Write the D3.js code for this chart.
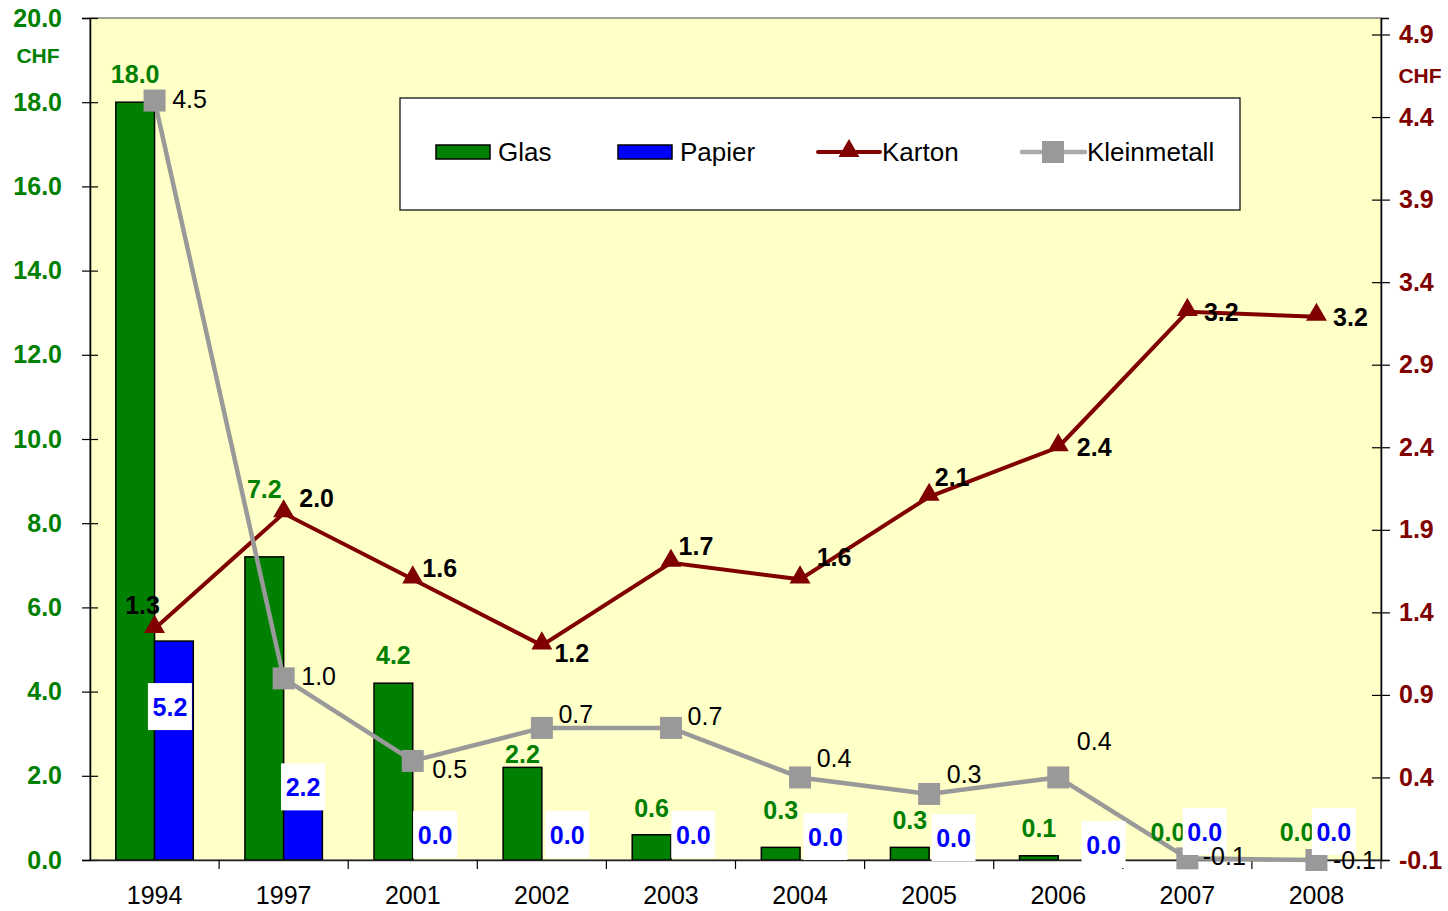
<!DOCTYPE html>
<html><head><meta charset="utf-8">
<script src="https://cdn.jsdelivr.net/npm/d3@7"></script>
<style>html,body{margin:0;padding:0;background:#fff;}svg{display:block;font-family:"Liberation Sans",Arial,sans-serif;}</style>
</head><body>
<svg id="chart" width="1448" height="911"></svg>
<script>
const years = ["1994","1997","2001","2002","2003","2004","2005","2006","2007","2008"];
const glas = [18.0, 7.2, 4.2, 2.2, 0.6, 0.3, 0.3, 0.1, 0.0, 0.0];
const papier = [5.2, 2.2, 0.0, 0.0, 0.0, 0.0, 0.0, 0.0, 0.0, 0.0];
const karton = [1.3, 2.0, 1.6, 1.2, 1.7, 1.6, 2.1, 2.4, 3.22, 3.19];
const kleinmetall = [4.5, 1.0, 0.5, 0.7, 0.7, 0.4, 0.3, 0.4, -0.09, -0.1];
const leftTicks = [0,2,4,6,8,10,12,14,16,18,20];
const rightTicks = [-0.1,0.4,0.9,1.4,1.9,2.4,2.9,3.4,3.9,4.4,4.9];

// label layout offsets (pixels), separate from data
const glasLabelDy = [-28,-68,-28,-13,-27,-37,-27,-28,-28,-28];
const papierLabelDx = [-4,0,3,6,3,6,5,26,-2,-2];
const papierLabelDy = [66,20,-25,-25,-25,-23,-22,-15,-28,-28];
const kartonLabelOff = [[-12,-24],[33,-15],[27,-11],[30,8],[25,-17],[34,-22],[23,-20],[36,0],[34,0],[34,0]];
const kleinLabelOff = [[35,-2],[35,-2],[37,8],[34,-14],[34,-12],[34,-19],[35,-20],[36,-36],[37,-2],[38,0]];

const C = {glas:"#008000", papier:"#0000FF", karton:"#800000", klein:"#999999", bg:"#FFFFC8"};
const L = 90, R = 1381, T = 18, B = 860;
const FS = 25;
const svg = d3.select("#chart");
const loc = d3.formatLocale({decimal:".", thousands:",", grouping:[3], currency:["",""], minus:"-"});
const fmt = loc.format(".1f");

const x = d3.scaleBand().domain(years).range([L, R]).paddingInner(0).paddingOuter(0);
const yL = d3.scaleLinear().domain([0,20]).range([B,T]);
const yR = d3.scaleLinear().domain([-0.1,5.0]).range([B,T]);
const bw = x.bandwidth()*0.3;
const cx = d => x(d) + x.bandwidth()/2;

// plot background
svg.append("rect").attr("x",L).attr("y",T).attr("width",R-L).attr("height",B-T)
  .attr("fill",C.bg).attr("stroke","#808080").attr("stroke-width",1.5);

// bars
svg.append("g").selectAll("rect").data(years).join("rect")
  .attr("x", d => cx(d)-bw).attr("y", (d,i)=>yL(glas[i])).attr("width", bw)
  .attr("height",(d,i)=>B-yL(glas[i])).attr("fill",C.glas).attr("stroke","#000").attr("stroke-width",1.5);
svg.append("g").selectAll("rect").data(years).join("rect")
  .attr("x", d => cx(d)).attr("y", (d,i)=>yL(papier[i])).attr("width", bw)
  .attr("height",(d,i)=>B-yL(papier[i])).attr("fill",C.papier).attr("stroke","#000").attr("stroke-width",1.5)
  .attr("display",(d,i)=>papier[i]>0?null:"none");

// axes
const gl = svg.append("g").attr("transform",`translate(${L},0)`)
  .call(d3.axisLeft(yL).tickValues(leftTicks).tickSize(8).tickFormat(fmt));
gl.select(".domain").attr("stroke","#000").attr("stroke-width",1.5);
gl.selectAll(".tick line").attr("x2",8).attr("x1",-8).attr("stroke","#000").attr("stroke-width",1.2);
gl.selectAll(".tick text").attr("x",-28).attr("fill",C.glas).attr("font-size",FS).attr("font-weight","bold")
  .attr("font-family","Liberation Sans, Arial, sans-serif");

const gr = svg.append("g").attr("transform",`translate(${R},0)`)
  .call(d3.axisRight(yR).tickValues(rightTicks).tickSize(8).tickFormat(fmt));
gr.select(".domain").attr("stroke","#000").attr("stroke-width",1.5);
gr.selectAll(".tick line").attr("x1",-9).attr("x2",9).attr("stroke","#000").attr("stroke-width",1.2);
gr.selectAll(".tick text").attr("x",18).attr("fill",C.karton).attr("font-size",FS).attr("font-weight","bold")
  .attr("font-family","Liberation Sans, Arial, sans-serif");

const gx = svg.append("g").attr("transform",`translate(0,${B})`)
  .call(d3.axisBottom(x).tickSize(0).tickPadding(26));
gx.select(".domain").attr("stroke","#222").attr("stroke-width",1.5);
gx.selectAll(".tick text").attr("fill","#000").attr("font-size",FS)
  .attr("font-family","Liberation Sans, Arial, sans-serif");
svg.append("g").selectAll("line").data(years).join("line")
  .attr("x1",(d,i)=>L+(i+1)*x.bandwidth()).attr("x2",(d,i)=>L+(i+1)*x.bandwidth())
  .attr("y1",B).attr("y2",B+9).attr("stroke","#000").attr("stroke-width",1.2);

// CHF unit labels
svg.append("text").attr("x",38).attr("y",63).attr("text-anchor","middle").attr("font-size",21)
  .attr("font-weight","bold").attr("fill",C.glas).text("CHF");
svg.append("text").attr("x",1420).attr("y",83).attr("text-anchor","middle").attr("font-size",21)
  .attr("font-weight","bold").attr("fill",C.karton).text("CHF");

// lines
const lineK = d3.line().x((d,i)=>cx(years[i])).y(d=>yR(d));
svg.append("path").datum(karton).attr("d",lineK).attr("fill","none").attr("stroke",C.karton).attr("stroke-width",4);
const tri = d3.symbol().type(d3.symbolTriangle).size(190);
svg.append("g").selectAll("path").data(karton).join("path")
  .attr("d",tri).attr("transform",(d,i)=>`translate(${cx(years[i])},${yR(d)-2})`).attr("fill",C.karton);

svg.append("path").datum(kleinmetall).attr("d",lineK).attr("fill","none").attr("stroke",C.klein).attr("stroke-width",4.5);
svg.append("g").selectAll("rect").data(kleinmetall).join("rect")
  .attr("x",(d,i)=>cx(years[i])-11).attr("y",d=>yR(d)-11).attr("width",22).attr("height",22).attr("fill",C.klein);

// labels
svg.append("g").selectAll("text").data(glas).join("text")
  .attr("x",(d,i)=>cx(years[i])-bw/2).attr("y",(d,i)=>yL(d)+glasLabelDy[i]).attr("dy","0.36em")
  .attr("text-anchor","middle").attr("font-size",FS).attr("font-weight","bold").attr("fill",C.glas).text(fmt);

const pl = svg.append("g").selectAll("g").data(papier).join("g")
  .attr("transform",(d,i)=>`translate(${cx(years[i])+bw/2+papierLabelDx[i]},${yL(d)+papierLabelDy[i]})`);
pl.append("rect").attr("x",-22).attr("y",-24).attr("width",44).attr("height",47).attr("fill","#fff");
pl.append("text").attr("dy","0.36em").attr("text-anchor","middle").attr("font-size",FS).attr("font-weight","bold")
  .attr("fill",C.papier).text(fmt);

svg.append("g").selectAll("text").data(karton).join("text")
  .attr("x",(d,i)=>cx(years[i])+kartonLabelOff[i][0]).attr("y",(d,i)=>yR(d)+kartonLabelOff[i][1]).attr("dy","0.36em")
  .attr("text-anchor","middle").attr("font-size",FS).attr("font-weight","bold").attr("fill","#000").text(fmt);

svg.append("g").selectAll("text").data(kleinmetall).join("text")
  .attr("x",(d,i)=>cx(years[i])+kleinLabelOff[i][0]).attr("y",(d,i)=>yR(d)+kleinLabelOff[i][1]).attr("dy","0.36em")
  .attr("text-anchor","middle").attr("font-size",FS).attr("fill","#000").text(fmt);

// legend
const lg = svg.append("g").attr("font-size",26);
lg.append("rect").attr("x",400).attr("y",98).attr("width",840).attr("height",112).attr("fill","#fff").attr("stroke","#000").attr("stroke-width",1.2);
const ly = 152;
lg.append("rect").attr("x",436).attr("y",ly-7).attr("width",54).attr("height",14).attr("fill",C.glas).attr("stroke","#000").attr("stroke-width",1.5);
lg.append("text").attr("x",498).attr("y",ly).attr("dy","0.34em").text("Glas");
lg.append("rect").attr("x",618).attr("y",ly-7).attr("width",54).attr("height",14).attr("fill",C.papier).attr("stroke","#000").attr("stroke-width",1.5);
lg.append("text").attr("x",680).attr("y",ly).attr("dy","0.34em").text("Papier");
lg.append("line").attr("x1",818).attr("x2",880).attr("y1",ly).attr("y2",ly).attr("stroke",C.karton).attr("stroke-width",4).attr("stroke-linecap","round");
lg.append("path").attr("d",tri).attr("transform",`translate(849,${ly-1})`).attr("fill",C.karton);
lg.append("text").attr("x",882).attr("y",ly).attr("dy","0.34em").text("Karton");
lg.append("line").attr("x1",1022).attr("x2",1085).attr("y1",ly).attr("y2",ly).attr("stroke","#aaa").attr("stroke-width",4.5).attr("stroke-linecap","round");
lg.append("rect").attr("x",1042).attr("y",ly-11).attr("width",22).attr("height",22).attr("fill",C.klein);
lg.append("text").attr("x",1087).attr("y",ly).attr("dy","0.34em").text("Kleinmetall");
</script>
</body></html>
